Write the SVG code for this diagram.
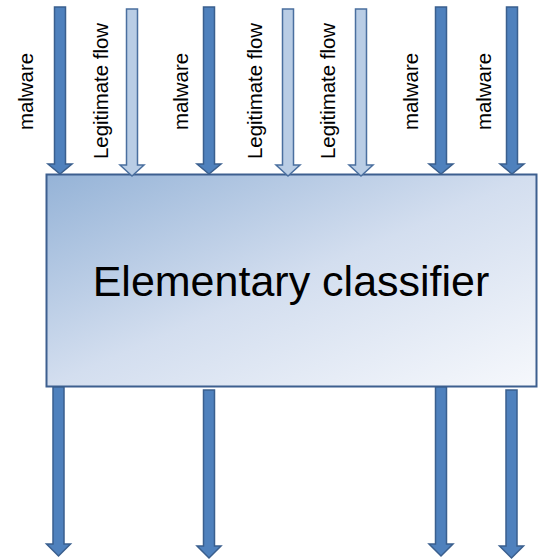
<svg xmlns="http://www.w3.org/2000/svg" width="538" height="560" viewBox="0 0 538 560">
<defs>
<linearGradient id="boxg" x1="0" y1="0" x2="1" y2="1">
<stop offset="0" stop-color="#95b3d7"/>
<stop offset="0.5" stop-color="#d3deef"/>
<stop offset="1" stop-color="#f6f8fc"/>
</linearGradient>
</defs>
<style>
.mal{fill:#4f81bd;stroke:#3a5f8e;stroke-width:1.5;stroke-linejoin:miter}
.leg{fill:#b9cde5;stroke:#4a6f9f;stroke-width:1.5;stroke-linejoin:miter}
.lbl{font-family:"Liberation Sans",Arial,sans-serif;font-size:20.4px;fill:#000;text-anchor:middle}
.title{font-family:"Liberation Sans",Arial,sans-serif;font-size:43px;fill:#000;text-anchor:middle}
</style>
<g id="classifier">
<rect x="46.5" y="174.5" width="490" height="212" fill="url(#boxg)" stroke="#3d5f8f" stroke-width="2"/>
<text class="title" x="291" y="296">Elementary classifier</text>
</g>
<g id="connectors">
<path class="mal" d="M54.5,7 H65.5 V164 H72 L60,174 L48,164 H54.5 Z"/>
<path class="leg" d="M126.5,9 H137.5 V165 H144 L132,176 L120,165 H126.5 Z"/>
<path class="mal" d="M203.5,7 H214.5 V164 H221 L209,174 L197,164 H203.5 Z"/>
<path class="leg" d="M282.5,9 H293.5 V165 H300 L288,176 L276,165 H282.5 Z"/>
<path class="leg" d="M355.5,9 H366.5 V165 H373 L361,176 L349,165 H355.5 Z"/>
<path class="mal" d="M435.5,7 H446.5 V164 H453 L441,174 L429,164 H435.5 Z"/>
<path class="mal" d="M506.5,7 H517.5 V164 H524 L512,174 L500,164 H506.5 Z"/>
<path class="mal" d="M53,387 H64 V544 H70.5 L58.5,556 L46.5,544 H53 Z"/>
<path class="mal" d="M203.5,390 H214.5 V546 H221 L209,558 L197,546 H203.5 Z"/>
<path class="mal" d="M435.5,387 H446.5 V544 H453 L441,556 L429,544 H435.5 Z"/>
<path class="mal" d="M506,390 H517 V546 H523.5 L511.5,558 L499.5,546 H506 Z"/>
</g>
<g id="labels">
<text class="lbl" transform="translate(33,91.5) rotate(-90)">malware</text>
<text class="lbl" transform="translate(107.5,91) rotate(-90)">Legitimate flow</text>
<text class="lbl" transform="translate(188,91.5) rotate(-90)">malware</text>
<text class="lbl" transform="translate(261.5,91) rotate(-90)">Legitimate flow</text>
<text class="lbl" transform="translate(334.5,91) rotate(-90)">Legitimate flow</text>
<text class="lbl" transform="translate(418,91.5) rotate(-90)">malware</text>
<text class="lbl" transform="translate(490.5,91.5) rotate(-90)">malware</text>
</g>
</svg>
